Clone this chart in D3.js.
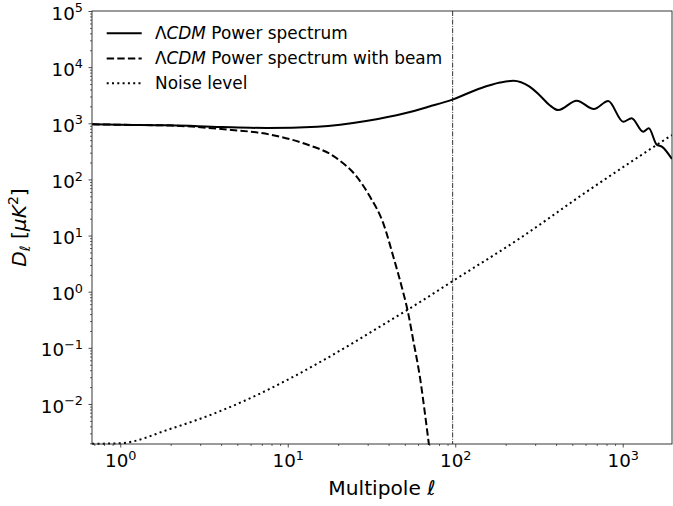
<!DOCTYPE html>
<html><head><meta charset="utf-8">
<script src="https://cdn.jsdelivr.net/npm/d3@7"></script>
<style>body{margin:0;background:#fff}svg{display:block}text{font-family:"DejaVu Sans",sans-serif;fill:#000}</style>
</head><body><svg id="c" width="673" height="506"></svg>
<script>
// ---- data ----
const ellCl = [0.68, 1, 2, 4, 7.5, 15, 30, 50, 70, 97, 140, 185, 222, 278, 318, 365, 412, 531, 673, 819, 1007, 1130, 1325, 1432, 1592, 1720, 1967];
const dlCl  = [960, 944, 921, 859, 824, 869, 1111, 1507, 1990, 2670, 4160, 5320, 5730, 4490, 3190, 2120, 1720, 2520, 1795, 2490, 1067, 1228, 707, 815, 420, 380, 231];

const ellBeam = [0.68, 1, 2, 4, 7.8, 12.4, 19.6, 25.8, 31, 37.2, 42.7, 47.9, 52.4, 56.1, 61.5, 67.5, 71];
const dlBeam  = [958, 942, 912, 790, 630, 440, 238, 112, 49, 16.5, 4.2, 1.23, 0.412, 0.138, 0.0306, 0.00394, 0.0012];

const ellNoise = [0.68, 1, 1.98, 4.1, 6.55, 10.3, 16.2, 25.9, 40.8, 59.9, 95.7, 243, 609, 1592, 1967];
const dlNoise  = [0.00196, 0.0020, 0.00358, 0.00781, 0.01445, 0.0284, 0.0595, 0.135, 0.307, 0.621, 1.52, 8.93, 60.4, 410, 618];

const ellMarker = 96.5;
const xTickVals = [1, 10, 100, 1000];
const yTickVals = [1e-2, 1e-1, 1, 10, 100, 1000, 1e4, 1e5];
const legendLabels = ["Power spectrum", "Power spectrum with beam", "Noise level"];

// ---- layout ----
const svg = d3.select("#c");
const L = 92, T = 11, R = 672, B = 444;
const x = d3.scaleLog().domain([0.678, 1969]).range([L, R]);
const y = d3.scaleLog().domain([0.001939, 1e5]).range([B, T]);

svg.append("defs").append("clipPath").attr("id", "clip")
  .append("rect").attr("x", L).attr("y", T - 1).attr("width", R - L).attr("height", B - T + 2);

function minorTicks(domain) {
  const out = [];
  const lo = Math.floor(Math.log10(domain[0])), hi = Math.ceil(Math.log10(domain[1]));
  for (let e = lo; e <= hi; e++) for (let k = 2; k <= 9; k++) {
    const v = k * Math.pow(10, e);
    if (v >= domain[0] && v <= domain[1]) out.push(v);
  }
  return out;
}
const sup = e => (e < 0 ? "\u2212" : "") + Math.abs(e);

// minor ticks
svg.append("g").attr("transform", `translate(0,${B})`)
  .call(d3.axisBottom(x).tickValues(minorTicks(x.domain())).tickFormat("").tickSize(2).tickSizeOuter(0))
  .call(g => g.select(".domain").remove())
  .call(g => g.selectAll("line").attr("stroke", "#222").attr("stroke-width", 0.7));
svg.append("g").attr("transform", `translate(${L},0)`)
  .call(d3.axisLeft(y).tickValues(minorTicks(y.domain())).tickFormat("").tickSize(2).tickSizeOuter(0))
  .call(g => g.select(".domain").remove())
  .call(g => g.selectAll("line").attr("stroke", "#222").attr("stroke-width", 0.7));

// major ticks + labels
const gx = svg.append("g").attr("transform", `translate(0,${B})`)
  .call(d3.axisBottom(x).tickValues(xTickVals).tickSize(3.5).tickSizeOuter(0))
  .call(g => g.select(".domain").remove())
  .call(g => g.selectAll("line").attr("stroke", "#222").attr("stroke-width", 0.8));
gx.selectAll(".tick text").each(function (d) {
  const t = d3.select(this).text(null).attr("dy", null).attr("y", 23.3)
    .attr("font-size", 18.3).attr("fill", "#000").attr("text-anchor", "middle");
  t.append("tspan").text("10");
  t.append("tspan").attr("dy", -7.3).attr("font-size", 12.8).text(sup(Math.round(Math.log10(d))));
});
const gy = svg.append("g").attr("transform", `translate(${L},0)`)
  .call(d3.axisLeft(y).tickValues(yTickVals).tickSize(3.5).tickSizeOuter(0))
  .call(g => g.select(".domain").remove())
  .call(g => g.selectAll("line").attr("stroke", "#222").attr("stroke-width", 0.8));
gy.selectAll(".tick text").each(function (d) {
  const t = d3.select(this).text(null).attr("dy", null).attr("x", -9).attr("y", 8)
    .attr("font-size", 18.3).attr("fill", "#000").attr("text-anchor", "end");
  t.append("tspan").text("10");
  t.append("tspan").attr("dy", -7.3).attr("font-size", 12.8).text(sup(Math.round(Math.log10(d))));
});

// curves
const plot = svg.append("g").attr("clip-path", "url(#clip)");
const mkLine = (xs, ys) => d3.line().curve(d3.curveMonotoneX)
  .x((d, i) => x(xs[i])).y((d, i) => y(ys[i]))(xs);

plot.append("line").attr("x1", x(ellMarker)).attr("x2", x(ellMarker)).attr("y1", T).attr("y2", B)
  .attr("stroke", "#000").attr("stroke-width", 0.8).attr("stroke-dasharray", "5,1.3,1,1.3");
plot.append("path").attr("d", mkLine(ellNoise, dlNoise)).attr("fill", "none")
  .attr("stroke", "#000").attr("stroke-width", 2).attr("stroke-dasharray", "2,3.3");
plot.append("path").attr("d", mkLine(ellBeam, dlBeam)).attr("fill", "none")
  .attr("stroke", "#000").attr("stroke-width", 2).attr("stroke-dasharray", "7.4,3.2");
plot.append("path").attr("d", mkLine(ellCl, dlCl)).attr("fill", "none")
  .attr("stroke", "#000").attr("stroke-width", 2);

// frame
svg.append("rect").attr("x", L).attr("y", T).attr("width", R - L).attr("height", B - T)
  .attr("fill", "none").attr("stroke", "#222").attr("stroke-width", 0.9);

// legend
const dashes = [null, "7.4,3.2", "2,3.3"];
const rowsY = [33.3, 58.6, 83.3];
legendLabels.forEach((lab, i) => {
  svg.append("line").attr("x1", 106.7).attr("x2", 141.7).attr("y1", rowsY[i]).attr("y2", rowsY[i])
    .attr("stroke", "#000").attr("stroke-width", 2).attr("stroke-dasharray", dashes[i]);
  const t = svg.append("text").attr("x", 155).attr("y", rowsY[i] + 5.6).attr("font-size", 16.9);
  if (i < 2) {
    t.append("tspan").text("\u039B");
    t.append("tspan").attr("font-style", "italic").text("CDM");
    t.append("tspan").text(" " + lab);
  } else {
    t.text(lab);
  }
});

// axis labels
const xl = svg.append("text").attr("x", (L + R) / 2).attr("y", 495).attr("text-anchor", "middle").attr("font-size", 20.2);
xl.append("tspan").text("Multipole ");
xl.append("tspan").attr("font-style", "italic").text("\u2113");

const yl = svg.append("text").attr("transform", `translate(26,${(T + B) / 2}) rotate(-90)`)
  .attr("text-anchor", "middle").attr("font-size", 20.2);
yl.append("tspan").attr("font-style", "italic").text("D");
yl.append("tspan").attr("font-style", "italic").attr("font-size", 14).attr("dy", 4).text("\u2113");
yl.append("tspan").attr("dy", -4).text(" [");
yl.append("tspan").attr("font-style", "italic").text("\u03BCK");
yl.append("tspan").attr("font-size", 14).attr("dy", -8).text("2");
yl.append("tspan").attr("dy", 8).text("]");
</script>
</body></html>
